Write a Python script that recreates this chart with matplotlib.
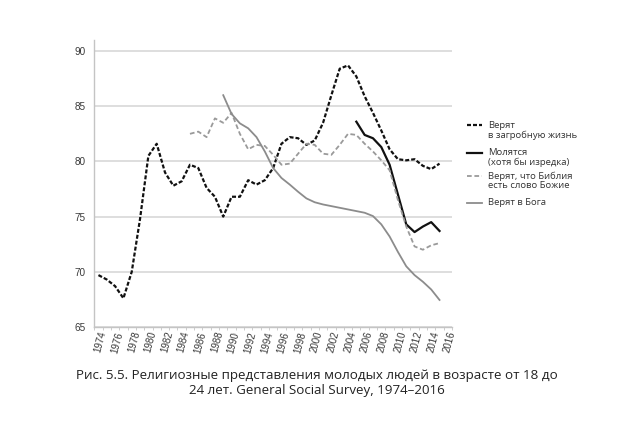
import matplotlib
matplotlib.use('Agg')
import matplotlib.pyplot as plt
from matplotlib.lines import Line2D
from matplotlib.ticker import FixedLocator

# data
years_afterlife = list(range(1974, 2016))
afterlife = [69.7, 69.3, 68.7, 67.6, 70.0, 74.8, 80.5, 81.6, 79.0, 77.8,
             78.2, 79.7, 79.4, 77.6, 76.8, 75.0, 76.8, 76.8, 78.3, 77.9,
             78.3, 79.4, 81.6, 82.2, 82.1, 81.5, 81.9, 83.5, 86.0, 88.4,
             88.7, 87.7, 85.9, 84.4, 82.8, 81.1, 80.2, 80.1, 80.2, 79.6,
             79.3, 79.8]

years_pray = list(range(2005, 2016))
pray = [83.6, 82.4, 82.1, 81.3, 79.7, 77.0, 74.3, 73.6, 74.1, 74.5, 73.7]

years_bible = list(range(1985, 2016))
bible = [82.5, 82.7, 82.2, 83.9, 83.5, 84.4, 82.5, 81.1, 81.5, 81.4,
         80.6, 79.7, 79.8, 80.7, 81.6, 81.5, 80.7, 80.6, 81.5, 82.5,
         82.4, 81.6, 80.9, 80.1, 79.2, 76.5, 74.1, 72.3, 72.0, 72.4,
         72.6]

years_god = list(range(1989, 2016))
god = [86.0, 84.3, 83.45, 83.0, 82.2, 80.9, 79.4, 78.5, 77.9, 77.25,
       76.65, 76.3, 76.1, 75.95, 75.8, 75.65, 75.5, 75.35, 75.05, 74.3,
       73.2, 71.8, 70.5, 69.7, 69.1, 68.4, 67.45]

x_ticks = list(range(1974, 2017, 2))
y_ticks = [65, 70, 75, 80, 85, 90]

labels = ['Верят\nв загробную жизнь',
          'Молятся\n(хотя бы изредка)',
          'Верят, что Библия\nесть слово Божие',
          'Верят в Бога']
caption = ('Рис. 5.5. Религиозные представления молодых людей в возрасте от 18 до\n'
           '24 лет. General Social Survey, 1974–2016')

W, H = 638, 425
fig = plt.figure(figsize=(W / 100, H / 100), dpi=100)
ax = fig.add_axes([94.3 / W, 1 - 327 / H, (452 - 94.3) / W, (327 - 40) / H])

styles = [
    dict(color='#111111', lw=1.6, ls=(0, (1.8, 0.9))),
    dict(color='#111111', lw=1.6, ls='-'),
    dict(color='#9a9a9a', lw=1.3, ls=(0, (2.6, 1.5))),
    dict(color='#8c8c8c', lw=1.3, ls='-'),
]

ax.plot(years_afterlife, afterlife, **styles[0])
ax.plot(years_pray, pray, **styles[1])
ax.plot(years_bible, bible, **styles[2])
ax.plot(years_god, god, **styles[3])

ax.set_xlim(1973.5, 2016.5)
ax.set_ylim(65, 91)
ax.set_yticks(y_ticks)
ax.set_xticks(x_ticks)
ax.xaxis.set_minor_locator(FixedLocator([y - 0.5 for y in range(1974, 2018)]))

ax.yaxis.grid(True, color='#d4d4d4', lw=1.1)
ax.set_axisbelow(True)
for s in ['top', 'right']:
    ax.spines[s].set_visible(False)
for s in ['left', 'bottom']:
    ax.spines[s].set_color('#c4c4c4')
    ax.spines[s].set_linewidth(1.0)

ax.tick_params(axis='y', length=0, pad=6, labelsize=7.2, labelcolor='#3a3a3a')
ax.tick_params(axis='x', which='major', length=0, pad=2.5, labelsize=7, labelcolor='#3a3a3a')
ax.tick_params(axis='x', which='minor', length=2, color='#c4c4c4')
for t in ax.get_yticklabels():
    t.set_fontfamily('Liberation Sans')
for t in ax.get_xticklabels():
    t.set_fontfamily('Liberation Sans')
    t.set_rotation(75)
    t.set_ha('right')
    t.set_va('top')
    t.set_rotation_mode('anchor')

# legend drawn by hand so the sample sits on the first text line
leg_y = [125.3, 152.7, 176.0, 202.7]
for lab, st, yp in zip(labels, styles, leg_y):
    yf = 1 - yp / H
    fig.add_artist(Line2D([467 / W, 482 / W], [yf, yf], transform=fig.transFigure,
                          color=st['color'], lw=st['lw'], ls=st['ls']))
    n = lab.count('\n')
    fig.text(488.5 / W, 1 - (yp + 5 * n) / H, lab, ha='left', va='center',
             fontsize=6.8, family='Open Sans', color='#333333', linespacing=1.05)

fig.text(316.5 / W, 1 - 383 / H, caption, ha='center', va='center',
         multialignment='center', fontsize=9.6, family='Open Sans',
         color='#222222', linespacing=1.15)

fig.savefig('out.png', dpi=100)
